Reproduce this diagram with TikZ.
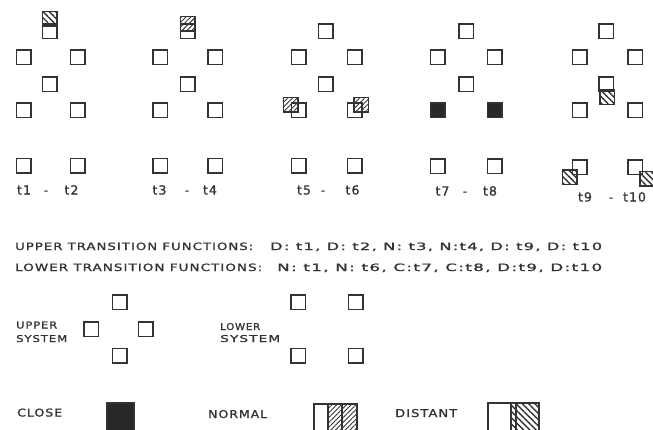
\documentclass[tikz,border=0pt]{standalone}
\usepackage{fontspec}
\newfontfamily\handfont[LetterSpace=8,FakeBold=1.2]{DejaVu Sans}
\usetikzlibrary{patterns.meta}
\definecolor{ink}{HTML}{333333}
\tikzset{
  sq/.style={draw=ink, line width=1.5pt, minimum size=14.5pt, inner sep=0pt},
  nrm/.style={sq, pattern={Lines[angle=45,distance=3.4pt,line width=0.9pt]}, pattern color=ink},
  dst/.style={sq, pattern={Lines[angle=-45,distance=4.4pt,line width=1.4pt]}, pattern color=ink},
  cls/.style={sq, fill=ink!80!black},
  lbl/.style={inner sep=0pt, anchor=base, text=ink, font=\handfont\fontsize{12.5}{12.5}\selectfont},
  txt/.style={inner sep=0pt, anchor=base west, text=ink},
  cell/.style={draw=ink, line width=1.5pt, inner sep=0pt, anchor=north west, minimum height=32pt},
}
\newcommand{\hw}[3]{\resizebox{#1pt}{#2pt}{\handfont #3}}
\begin{document}
\begin{tikzpicture}[x=1pt,y=-1pt]
\useasboundingbox (0,0) rectangle (653,429);

% upper systems in the five panels
\foreach \p/\xl/\xc/\xr in {1/23.5/49.5/77.5, 2/160/187.5/215, 3/298.5/325.5/354.5, 4/437.5/466/494.5, 5/579.5/606/635}{
  \node[sq] (p\p-top) at (\xc,31) {};
  \node[sq] (p\p-l) at (\xl,57) {};
  \node[sq] (p\p-r) at (\xr,57) {};
  \node[sq] (p\p-bot) at (\xc,84) {};
}
% lower systems in the five panels
\foreach \p/\xl/\xr/\st/\yb in {1/23.5/77.5/sq/165.5, 2/160/215/sq/165.5, 3/298.5/354.5/sq/165.5, 4/437.5/494.5/cls/166, 5/579.5/635/sq/167}{
  \node[\st] (p\p-ml) at (\xl,110) {};
  \node[\st] (p\p-mr) at (\xr,110) {};
  \node[sq] (p\p-bl) at (\xl,\yb) {};
  \node[sq] (p\p-br) at (\xr,\yb) {};
}

% transition overlays
\node[dst] (h1) at (49.5,18.5) {};
\node[nrm] (h2) at (187.5,23.5) {};
\node[nrm] (h3a) at (290.5,104.5) {};
\node[nrm] (h3b) at (361,104.5) {};
\node[dst] (h5a) at (607,97) {};
\node[dst] (h5b) at (569.5,177) {};
\node[dst] (h5c) at (647,178.5) {};

% panel labels
\node[lbl] (l1) at (24,194.5) {t1};
\node[lbl] (d1) at (46,194.5) {-};
\node[lbl] (l2) at (71.5,194.5) {t2};
\node[lbl] (l3) at (159.5,194.5) {t3};
\node[lbl] (d2) at (187,194.5) {-};
\node[lbl] (l4) at (210,194.5) {t4};
\node[lbl] (l5) at (304,194.5) {t5};
\node[lbl] (d3) at (323,194.5) {-};
\node[lbl] (l6) at (352.5,194.5) {t6};
\node[lbl] (l7) at (442.5,195.5) {t7};
\node[lbl] (d4) at (465,195.5) {-};
\node[lbl] (l8) at (490,195.5) {t8};
\node[lbl] (l9) at (585,201.5) {t9};
\node[lbl] (d5) at (611,201.5) {-};
\node[lbl] (l10) at (634.5,201.5) {t10};

% transition functions
\node[txt] (up1) at (15,250) {\hw{238}{7.5}{UPPER TRANSITION FUNCTIONS:}};
\node[txt] (up2) at (270,250) {\hw{332}{7.5}{D: t1, D: t2, N: t3, N:t4, D: t9, D: t10}};
\node[txt] (lo1) at (15,271) {\hw{247}{7.5}{LOWER TRANSITION FUNCTIONS:}};
\node[txt] (lo2) at (277,271) {\hw{325}{7.5}{N: t1, N: t6, C:t7, C:t8, D:t9, D:t10}};

% system legends
\node[txt] (us1) at (16,328.5) {\hw{41}{7}{UPPER}};
\node[txt] (us2) at (16,342) {\hw{51}{7}{SYSTEM}};
\node[sq] (u-top) at (119.5,302) {};
\node[sq] (u-l) at (91,329) {};
\node[sq] (u-r) at (145.5,329) {};
\node[sq] (u-bot) at (119.5,355.5) {};

\node[txt] (ls1) at (220,330) {\hw{40}{7}{LOWER}};
\node[txt] (ls2) at (220,342) {\hw{60}{7}{SYSTEM}};
\node[sq] (lw-tl) at (298,302) {};
\node[sq] (lw-tr) at (355.5,302) {};
\node[sq] (lw-bl) at (298,355.5) {};
\node[sq] (lw-br) at (355.5,355.5) {};

% transition type legend
\node[txt] (close) at (17,416.5) {\hw{45}{8}{CLOSE}};
\node[cell, fill=ink!80!black, minimum width=27pt] (kclose) at (106,402) {};

\node[txt] (normal) at (208,418) {\hw{59}{8}{NORMAL}};
\node[cell, minimum width=14pt] (kn1) at (313,403) {};
\node[cell, minimum width=14pt, pattern={Lines[angle=45,distance=3.4pt,line width=0.9pt]}, pattern color=ink] (kn2) at (327,403) {};
\node[cell, minimum width=15pt, pattern={Lines[angle=45,distance=3.4pt,line width=0.9pt]}, pattern color=ink] (kn3) at (341,403) {};

\node[txt] (distant) at (395,417) {\hw{62}{8}{DISTANT}};
\node[cell, minimum width=23pt] (kd1) at (487,402) {};
\node[cell, minimum width=5pt, pattern={Lines[angle=-45,distance=4.4pt,line width=1.4pt]}, pattern color=ink] (kd2) at (510,402) {};
\node[cell, minimum width=23pt, pattern={Lines[angle=-45,distance=4.4pt,line width=1.4pt]}, pattern color=ink] (kd3) at (515,402) {};
\end{tikzpicture}
\end{document}
